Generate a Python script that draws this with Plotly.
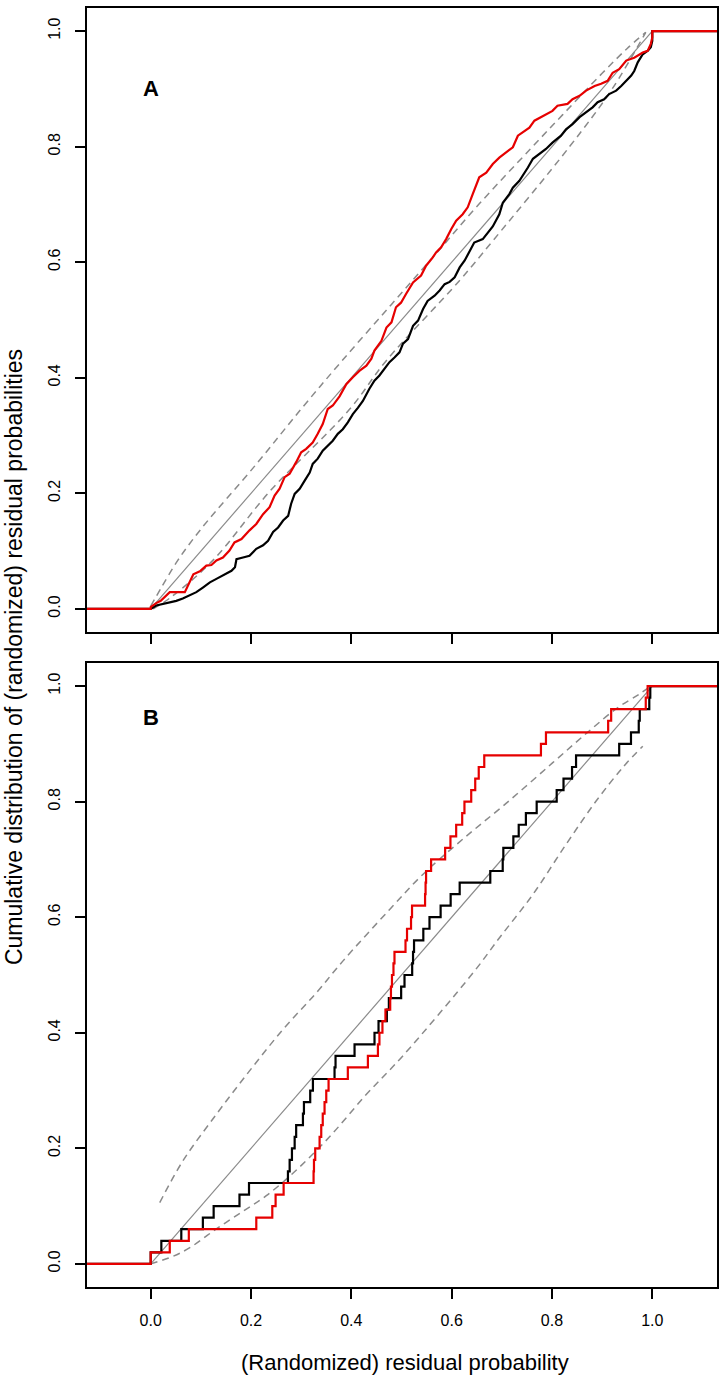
import plotly.graph_objects as go

# ---------------- data ----------------
ticks = [0.0, 0.2, 0.4, 0.6, 0.8, 1.0]
tick_text = ["0.0", "0.2", "0.4", "0.6", "0.8", "1.0"]
x_range = [-0.127, 1.129]
y_range = [-0.04, 1.04]
edge_left = -0.2
edge_right = 1.2

diag_x = [0.0, 1.0]
diag_y = [0.0, 1.0]

blackA_x = [edge_left, 0.0, 0.011, 0.031, 0.051, 0.064, 0.078, 0.091, 0.104, 0.118, 0.131, 0.147,
            0.161, 0.168, 0.171, 0.184, 0.197, 0.2105, 0.224, 0.234, 0.244, 0.254, 0.264,
            0.274, 0.280, 0.287, 0.297, 0.307, 0.317, 0.323, 0.333, 0.343, 0.353, 0.363,
            0.373, 0.383, 0.393, 0.403, 0.413, 0.423, 0.436, 0.446, 0.456, 0.466, 0.476,
            0.486, 0.496, 0.503, 0.513, 0.523, 0.533, 0.543, 0.552, 0.566, 0.576, 0.586,
            0.596, 0.606, 0.616, 0.626, 0.636, 0.645, 0.662, 0.672, 0.682, 0.695, 0.702,
            0.715, 0.722, 0.735, 0.742, 0.752, 0.762, 0.775, 0.788, 0.801, 0.818, 0.828,
            0.841, 0.855, 0.868, 0.881, 0.891, 0.904, 0.914, 0.928, 0.938, 0.948, 0.958,
            0.964, 0.971, 0.981, 0.991, 0.997, 1.0, 1.0, edge_right]
blackA_y = [0.0, 0.0, 0.006, 0.010, 0.014, 0.018, 0.023, 0.029, 0.037, 0.046, 0.052, 0.059,
            0.066, 0.072, 0.086, 0.089, 0.092, 0.104, 0.110, 0.118, 0.133, 0.141, 0.153,
            0.161, 0.182, 0.199, 0.208, 0.222, 0.236, 0.251, 0.260, 0.274, 0.283, 0.291,
            0.303, 0.311, 0.323, 0.337, 0.348, 0.360, 0.381, 0.395, 0.404, 0.415, 0.427,
            0.435, 0.444, 0.459, 0.467, 0.490, 0.499, 0.519, 0.533, 0.542, 0.551, 0.562,
            0.566, 0.574, 0.591, 0.603, 0.620, 0.634, 0.640, 0.652, 0.662, 0.683, 0.703,
            0.718, 0.729, 0.741, 0.750, 0.764, 0.779, 0.787, 0.796, 0.807, 0.819, 0.830,
            0.839, 0.851, 0.859, 0.868, 0.877, 0.882, 0.891, 0.897, 0.905, 0.914, 0.923,
            0.931, 0.946, 0.960, 0.966, 0.972, 0.983, 1.0, 1.0]

redA_x = [edge_left, 0.0, 0.0, 0.011, 0.020, 0.038, 0.068, 0.078, 0.085, 0.098, 0.111, 0.121,
          0.131, 0.144, 0.157, 0.167, 0.181, 0.197, 0.2105, 0.224, 0.237, 0.247, 0.257,
          0.267, 0.277, 0.290, 0.300, 0.310, 0.323, 0.333, 0.343, 0.353, 0.363, 0.3765,
          0.390, 0.403, 0.416, 0.430, 0.440, 0.446, 0.460, 0.470, 0.480, 0.489, 0.499,
          0.509, 0.523, 0.539, 0.549, 0.562, 0.569, 0.579, 0.589, 0.599, 0.609, 0.622,
          0.632, 0.642, 0.655, 0.669, 0.682, 0.695, 0.709, 0.722, 0.732, 0.742, 0.755,
          0.765, 0.778, 0.788, 0.801, 0.811, 0.831, 0.841, 0.855, 0.868, 0.885, 0.898,
          0.911, 0.921, 0.934, 0.948, 0.964, 0.981, 0.991, 0.997, 1.0, 1.0, edge_right]
redA_y = [0.0, 0.0, 0.003, 0.010, 0.014, 0.029, 0.029, 0.049, 0.060, 0.065, 0.075, 0.076,
          0.084, 0.089, 0.101, 0.115, 0.121, 0.136, 0.147, 0.164, 0.176, 0.196, 0.208,
          0.228, 0.234, 0.254, 0.271, 0.277, 0.288, 0.303, 0.320, 0.346, 0.352, 0.368,
          0.389, 0.401, 0.412, 0.421, 0.433, 0.447, 0.464, 0.487, 0.496, 0.522, 0.530,
          0.545, 0.565, 0.577, 0.594, 0.608, 0.617, 0.626, 0.640, 0.657, 0.672, 0.683,
          0.695, 0.718, 0.747, 0.755, 0.770, 0.781, 0.790, 0.799, 0.819, 0.825, 0.833,
          0.845, 0.851, 0.856, 0.862, 0.871, 0.874, 0.882, 0.888, 0.897, 0.905, 0.909,
          0.914, 0.928, 0.934, 0.949, 0.954, 0.963, 0.966, 0.978, 0.989, 1.0, 1.0]

# Panel A: dashed bands
upperA_x = [0.0, 0.02, 0.054, 0.10, 0.21, 0.30, 0.38, 0.48, 0.569, 0.655, 0.758, 0.821, 0.90, 0.95, 0.987]
upperA_y = [0.005, 0.035, 0.084, 0.138, 0.250, 0.346, 0.428, 0.527, 0.615, 0.701, 0.797, 0.855, 0.927, 0.970, 0.998]
lowerA_x = [0.005, 0.04, 0.124, 0.237, 0.396, 0.47, 0.6155, 0.682, 0.835, 0.92, 0.987]
lowerA_y = [0.0, 0.020, 0.084, 0.203, 0.345, 0.430, 0.568, 0.637, 0.800, 0.900, 0.998]

# Panel B: empirical CDF step curves (jump locations and levels)
blackB_x = [edge_left, 0.0, 0.0212, 0.061, 0.104, 0.1255, 0.177, 0.196, 0.2736, 0.277, 0.2816,
            0.287, 0.290, 0.3035, 0.3055, 0.318, 0.3234, 0.3665, 0.3685, 0.4064, 0.4462,
            0.4542, 0.4708, 0.4748, 0.4993, 0.506, 0.5213, 0.523, 0.525, 0.5435, 0.5558,
            0.578, 0.598, 0.616, 0.677, 0.7018, 0.703, 0.723, 0.7337, 0.748, 0.7695,
            0.8094, 0.823, 0.840, 0.848, 0.934, 0.9575, 0.973, 0.975, 0.994, 0.996, edge_right]
blackB_y = [0.0, 0.02, 0.04, 0.06, 0.08, 0.10, 0.12, 0.14, 0.16, 0.18, 0.20,
            0.22, 0.24, 0.26, 0.28, 0.30, 0.32, 0.34, 0.36, 0.38, 0.40,
            0.42, 0.44, 0.46, 0.48, 0.50, 0.52, 0.54, 0.56, 0.58, 0.60,
            0.62, 0.64, 0.66, 0.68, 0.70, 0.72, 0.74, 0.76, 0.78, 0.80,
            0.82, 0.84, 0.86, 0.88, 0.90, 0.92, 0.94, 0.96, 0.98, 1.00, 1.00]

redB_x = [edge_left, 0.0, 0.038, 0.076, 0.2105, 0.2424, 0.249, 0.265, 0.3247, 0.3255, 0.328,
          0.3367, 0.340, 0.343, 0.3466, 0.350, 0.3546, 0.393, 0.433, 0.453, 0.456,
          0.462, 0.468, 0.4775, 0.479, 0.481, 0.484, 0.486, 0.508, 0.511, 0.519,
          0.521, 0.547, 0.548, 0.549, 0.559, 0.587, 0.5976, 0.609, 0.621, 0.6255,
          0.639, 0.647, 0.654, 0.665, 0.778, 0.788, 0.912, 0.918, 0.987, 0.9907, edge_right]
redB_y = blackB_y[:]

# Panel B: dashed bands
upperB_x = [0.018, 0.064, 0.131, 0.197, 0.264, 0.330, 0.383, 0.476, 0.5425, 0.622, 0.7085, 0.801, 0.871, 0.930, 0.974, 0.997]
upperB_y = [0.106, 0.178, 0.259, 0.334, 0.406, 0.469, 0.524, 0.613, 0.674, 0.735, 0.797, 0.867, 0.920, 0.962, 0.986, 1.0]
lowerB_x = [0.0, 0.044, 0.078, 0.130, 0.184, 0.2305, 0.290, 0.3566, 0.4296, 0.5026, 0.6454, 0.695, 0.7616, 0.828, 0.888, 0.941, 0.981]
lowerB_y = [0.0, 0.013, 0.028, 0.060, 0.091, 0.118, 0.162, 0.220, 0.293, 0.360, 0.5067, 0.564, 0.639, 0.726, 0.801, 0.859, 0.896]

# ---------------- figure ----------------
FONT = "Liberation Sans, Arial, sans-serif"
RED = "#e60000"
GREY = "#8a8a8a"

fig = go.Figure()


def add_panel(row_x, row_y, ux, uy, lx, ly, bx, by, rx, ry, step_shape):
    fig.add_trace(go.Scatter(x=diag_x, y=diag_y, mode="lines", xaxis=row_x, yaxis=row_y,
                             line=dict(color=GREY, width=1.2), showlegend=False, hoverinfo="skip"))
    fig.add_trace(go.Scatter(x=ux, y=uy, mode="lines", xaxis=row_x, yaxis=row_y,
                             line=dict(color=GREY, width=1.5, dash="7px,5px", shape="spline"),
                             showlegend=False, hoverinfo="skip"))
    fig.add_trace(go.Scatter(x=lx, y=ly, mode="lines", xaxis=row_x, yaxis=row_y,
                             line=dict(color=GREY, width=1.5, dash="7px,5px", shape="spline"),
                             showlegend=False, hoverinfo="skip"))
    fig.add_trace(go.Scatter(x=bx, y=by, mode="lines", xaxis=row_x, yaxis=row_y,
                             line=dict(color="black", width=2.2, shape=step_shape),
                             showlegend=False))
    fig.add_trace(go.Scatter(x=rx, y=ry, mode="lines", xaxis=row_x, yaxis=row_y,
                             line=dict(color=RED, width=2.2, shape=step_shape),
                             showlegend=False))


add_panel("x", "y", upperA_x, upperA_y, lowerA_x, lowerA_y, blackA_x, blackA_y, redA_x, redA_y, "linear")
add_panel("x2", "y2", upperB_x, upperB_y, lowerB_x, lowerB_y, blackB_x, blackB_y, redB_x, redB_y, "hv")

W, H = 725, 1381
ML, MR, MT, MB = 87, 7, 6, 94
plot_h = H - MT - MB
domA = [(1287 - 631) / plot_h, 1.0]
domB = [0.0, (1287 - 662) / plot_h]

axis_common = dict(range=x_range, showline=True, mirror=True, linecolor="black", linewidth=1.5,
                   ticks="outside", ticklen=10, tickwidth=1.5, tickcolor="black",
                   tickvals=ticks, ticktext=tick_text, showgrid=False, zeroline=False,
                   tickfont=dict(family=FONT, size=16, color="black"))
yaxis_common = dict(range=y_range, showline=True, mirror=True, linecolor="black", linewidth=1.5,
                    ticks="outside", ticklen=10, tickwidth=1.5, tickcolor="black",
                    tickvals=ticks, ticktext=tick_text, showgrid=False, zeroline=False,
                    tickangle=-90, ticklabelstandoff=9,
                    tickfont=dict(family=FONT, size=16, color="black"))

fig.update_layout(
    width=W, height=H,
    margin=dict(l=ML, r=MR, t=MT, b=MB),
    paper_bgcolor="white", plot_bgcolor="white",
    xaxis=dict(axis_common, anchor="y", domain=[0, 1], showticklabels=False),
    yaxis=dict(yaxis_common, anchor="x", domain=domA),
    xaxis2=dict(axis_common, anchor="y2", domain=[0, 1], showticklabels=True, ticklabelstandoff=8),
    yaxis2=dict(yaxis_common, anchor="x2", domain=domB),
    font=dict(family=FONT, color="black"),
)

fig.add_annotation(x=0.0, y=0.9, xref="x", yref="y", text="<b>A</b>", showarrow=False,
                   font=dict(family=FONT, size=22, color="black"))
fig.add_annotation(x=0.0, y=0.945, xref="x2", yref="y2", text="<b>B</b>", showarrow=False,
                   font=dict(family=FONT, size=22, color="black"))

fig.add_annotation(x=(406 - ML) / (W - ML - MR), y=(1287 - 1363) / plot_h, xref="paper", yref="paper",
                   text="(Randomized) residual probability", showarrow=False,
                   xanchor="center", yanchor="middle",
                   font=dict(family=FONT, size=22, color="black"))
fig.add_annotation(x=(14 - ML) / (W - ML - MR), y=(1287 - 656) / plot_h, xref="paper", yref="paper",
                   text="Cumulative distribution of (randomized) residual probabilities",
                   showarrow=False, textangle=-90, xanchor="center", yanchor="middle",
                   font=dict(family=FONT, size=23, color="black"))

fig.write_html(
    "out.html",
    config={"displayModeBar": False},
    post_script="document.body.style.margin='0';document.body.style.padding='0';"
                "document.documentElement.style.overflow='hidden';document.body.style.overflow='hidden';",
)
